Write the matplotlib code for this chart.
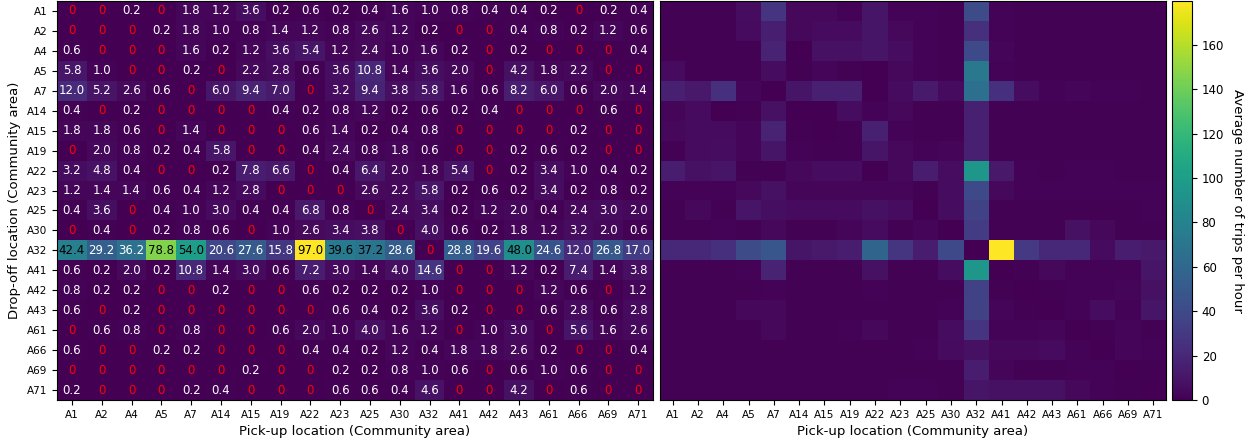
import numpy as np
import matplotlib.pyplot as plt

# Community areas (same order for pick-up columns and drop-off rows)
areas = ['A1', 'A2', 'A4', 'A5', 'A7', 'A14', 'A15', 'A19', 'A22', 'A23',
         'A25', 'A30', 'A32', 'A41', 'A42', 'A43', 'A61', 'A66', 'A69', 'A71']

# Left panel: annotated average trips per hour (rows = drop-off, cols = pick-up)
left_trips = [
    [0, 0, 0.2, 0, 1.8, 1.2, 3.6, 0.2, 0.6, 0.2, 0.4, 1.6, 1.0, 0.8, 0.4, 0.4, 0.2, 0, 0.2, 0.4],
    [0, 0, 0, 0.2, 1.8, 1.0, 0.8, 1.4, 1.2, 0.8, 2.6, 1.2, 0.2, 0, 0, 0.4, 0.8, 0.2, 1.2, 0.6],
    [0.6, 0, 0, 0, 1.6, 0.2, 1.2, 3.6, 5.4, 1.2, 2.4, 1.0, 1.6, 0.2, 0, 0.2, 0, 0, 0, 0.4],
    [5.8, 1.0, 0, 0, 0.2, 0, 2.2, 2.8, 0.6, 3.6, 10.8, 1.4, 3.6, 2.0, 0, 4.2, 1.8, 2.2, 0, 0],
    [12.0, 5.2, 2.6, 0.6, 0, 6.0, 9.4, 7.0, 0, 3.2, 9.4, 3.8, 5.8, 1.6, 0.6, 8.2, 6.0, 0.6, 2.0, 1.4],
    [0.4, 0, 0.2, 0, 0, 0, 0, 0.4, 0.2, 0.8, 1.2, 0.2, 0.6, 0.2, 0.4, 0, 0, 0, 0.6, 0],
    [1.8, 1.8, 0.6, 0, 1.4, 0, 0, 0, 0.6, 1.4, 0.2, 0.4, 0.8, 0, 0, 0, 0, 0.2, 0, 0],
    [0, 2.0, 0.8, 0.2, 0.4, 5.8, 0, 0, 0.4, 2.4, 0.8, 1.8, 0.6, 0, 0, 0.2, 0.6, 0.2, 0, 0],
    [3.2, 4.8, 0.4, 0, 0, 0.2, 7.8, 6.6, 0, 0.4, 6.4, 2.0, 1.8, 5.4, 0, 0.2, 3.4, 1.0, 0.4, 0.2],
    [1.2, 1.4, 1.4, 0.6, 0.4, 1.2, 2.8, 0, 0, 0, 2.6, 2.2, 5.8, 0.2, 0.6, 0.2, 3.4, 0.2, 0.8, 0.2],
    [0.4, 3.6, 0, 0.4, 1.0, 3.0, 0.4, 0.4, 6.8, 0.8, 0, 2.4, 3.4, 0.2, 1.2, 2.0, 0.4, 2.4, 3.0, 2.0],
    [0, 0.4, 0, 0.2, 0.8, 0.6, 0, 1.0, 2.6, 3.4, 3.8, 0, 4.0, 0.6, 0.2, 1.8, 1.2, 3.2, 2.0, 0.6],
    [42.4, 29.2, 36.2, 78.8, 54.0, 20.6, 27.6, 15.8, 97.0, 39.6, 37.2, 28.6, 0, 28.8, 19.6, 48.0, 24.6, 12.0, 26.8, 17.0],
    [0.6, 0.2, 2.0, 0.2, 10.8, 1.4, 3.0, 0.6, 7.2, 3.0, 1.4, 4.0, 14.6, 0, 0, 1.2, 0.2, 7.4, 1.4, 3.8],
    [0.8, 0.2, 0.2, 0, 0, 0.2, 0, 0, 0.6, 0.2, 0.2, 0.2, 1.0, 0, 0, 0, 1.2, 0.6, 0, 1.2],
    [0.6, 0, 0.2, 0, 0, 0, 0, 0, 0, 0.6, 0.4, 0.2, 3.6, 0.2, 0, 0, 0.6, 2.8, 0.6, 2.8],
    [0, 0.6, 0.8, 0, 0.8, 0, 0, 0.6, 2.0, 1.0, 4.0, 1.6, 1.2, 0, 1.0, 3.0, 0, 5.6, 1.6, 2.6],
    [0.6, 0, 0, 0.2, 0.2, 0, 0, 0, 0.4, 0.4, 0.2, 1.2, 0.4, 1.8, 1.8, 2.6, 0.2, 0, 0, 0.4],
    [0, 0, 0, 0, 0, 0, 0.2, 0, 0, 0.2, 0.2, 0.8, 1.0, 0.6, 0, 0.6, 1.0, 0.6, 0, 0],
    [0.2, 0, 0, 0, 0.2, 0.4, 0, 0, 0, 0.6, 0.6, 0.4, 4.6, 0, 0, 4.2, 0, 0.6, 0, 0],
]

# Right panel: average trips per hour (values estimated from colour)
right_trips = [
    [1, 1, 1, 6, 28, 4, 4, 2, 10, 2, 2, 1, 42, 2, 1, 1, 1, 1, 1, 1],
    [1, 1, 1, 5, 15, 4, 5, 5, 10, 4, 2, 1, 25, 2, 1, 1, 1, 1, 1, 1],
    [1, 1, 1, 1, 18, 0, 8, 8, 10, 6, 2, 1, 40, 3, 1, 1, 1, 1, 1, 1],
    [5, 1, 1, 1, 6, 1, 3, 1, 0, 4, 2, 1, 72, 2, 1, 1, 1, 1, 1, 1],
    [16, 12, 25, 3, 0, 10, 16, 16, 0, 5, 13, 5, 66, 24, 6, 2, 3, 2, 2, 1],
    [3, 5, 0, 1, 8, 0, 0, 6, 2, 4, 1, 1, 16, 1, 1, 1, 1, 1, 1, 1],
    [4, 5, 5, 3, 18, 1, 0, 1, 16, 2, 1, 1, 16, 1, 1, 1, 1, 1, 1, 1],
    [1, 5, 6, 3, 10, 2, 1, 1, 10, 4, 2, 3, 16, 1, 1, 1, 1, 1, 1, 1],
    [14, 8, 10, 1, 1, 4, 6, 6, 0, 4, 14, 6, 95, 12, 2, 1, 2, 2, 1, 1],
    [2, 2, 2, 4, 8, 3, 3, 3, 3, 3, 1, 6, 40, 4, 2, 2, 2, 2, 2, 2],
    [1, 4, 1, 10, 7, 5, 5, 5, 8, 6, 0, 6, 35, 1, 1, 1, 1, 1, 1, 2],
    [1, 1, 2, 1, 4, 1, 1, 3, 5, 1, 3, 0, 32, 1, 1, 1, 8, 4, 1, 1],
    [20, 20, 24, 42, 48, 10, 12, 14, 58, 27, 14, 40, 0, 179.8, 30, 20, 20, 5, 14, 12],
    [1, 1, 1, 2, 18, 1, 1, 1, 8, 1, 1, 6, 95, 0, 1, 4, 2, 2, 2, 10],
    [1, 1, 1, 1, 2, 1, 1, 1, 2, 1, 1, 1, 35, 1, 0, 1, 2, 2, 3, 8],
    [1, 1, 1, 4, 4, 1, 1, 1, 1, 1, 1, 2, 35, 3, 1, 0, 2, 6, 2, 10],
    [1, 1, 1, 1, 4, 1, 1, 2, 4, 1, 1, 6, 28, 2, 2, 3, 0, 1, 3, 1],
    [1, 1, 1, 1, 1, 1, 1, 1, 1, 1, 2, 5, 8, 4, 4, 5, 2, 0, 3, 2],
    [1, 1, 1, 1, 1, 1, 1, 1, 1, 1, 1, 1, 14, 3, 1, 1, 2, 2, 0, 1],
    [1, 1, 1, 1, 1, 1, 1, 1, 1, 2, 2, 1, 10, 8, 8, 8, 4, 2, 1, 0],
]

left = np.array(left_trips, dtype=float)
right = np.array(right_trips, dtype=float)
n = len(areas)

W, H = 1256, 443
fig = plt.figure(figsize=(W / 100, H / 100), dpi=100)
ax1 = fig.add_axes([57 / W, 43 / H, 596 / W, 399 / H])
ax2 = fig.add_axes([660 / W, 43 / H, 506 / W, 399 / H])
cax = fig.add_axes([1172 / W, 43 / H, 20 / W, 399 / H])

# left heatmap with annotations
ax1.imshow(left, cmap='viridis', aspect='auto')
for i in range(n):
    for j in range(n):
        v = left[i, j]
        if v == 0:
            txt, col = '0', 'red'
        else:
            txt = f'{v:.1f}'
            col = 'black' if v >= 37 else 'white'
        ax1.text(j, i, txt, ha='center', va='center', color=col, fontsize=8.5)
ax1.set_xticks(range(n))
ax1.set_xticklabels(areas, fontsize=7.5)
ax1.set_yticks(range(n))
ax1.set_yticklabels(areas, fontsize=7.5)
ax1.set_xlabel('Pick-up location (Community area)', fontsize=9.5)
ax1.set_ylabel('Drop-off location (Community area)', fontsize=9.5)

# right heatmap
im2 = ax2.imshow(right, cmap='viridis', aspect='auto')
ax2.set_xticks(range(n))
ax2.set_xticklabels(areas, fontsize=7.5)
ax2.set_yticks([])
ax2.set_xlabel('Pick-up location (Community area)', fontsize=9.5)

cb = fig.colorbar(im2, cax=cax)
cb.ax.tick_params(labelsize=8.5)
cb.set_label('Average number of trips per hour', rotation=270, labelpad=14, fontsize=9.5)

fig.savefig('out.png', dpi=100)
